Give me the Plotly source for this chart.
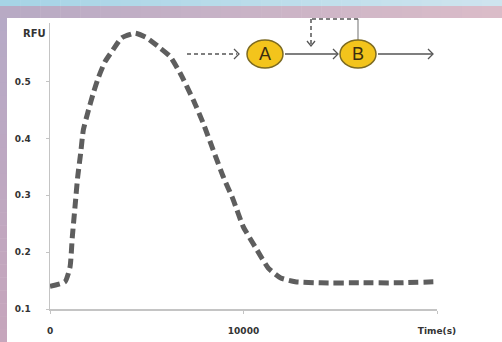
import plotly.graph_objects as go

# ---- data ----
time_s = [0, 776, 1035, 1154, 1293, 1433, 1588, 1723, 1950, 2240, 2500, 2845, 3260,
          3710, 4400, 5000, 5690, 6210, 6725, 7400, 7915, 8430, 8950, 9470, 9985,
          10695, 11280, 11900, 12675, 14000, 16000, 18000, 20000]
rfu = [0.140, 0.148, 0.174, 0.227, 0.280, 0.333, 0.375, 0.415, 0.445, 0.480, 0.507,
       0.535, 0.556, 0.577, 0.585, 0.577, 0.559, 0.544, 0.515, 0.468, 0.427, 0.380,
       0.333, 0.292, 0.245, 0.204, 0.172, 0.155, 0.148, 0.146, 0.146, 0.146, 0.148]

y_ticks = [0.1, 0.2, 0.3, 0.4, 0.5]
y_tick_text = ["0.1", "0.2", "0.3", "0.4", "0.5"]
x_ticks = [0, 10000, 20000]
x_tick_text = ["0", "10000", "Time(s)"]

W, H = 502, 342
L, R, T, B = 50, 437, 23, 309


def px(x):
    return (x - L) / (R - L)


def py(y):
    return (B - y) / (B - T)


def lerp(c1, c2, f):
    return "rgb(%d,%d,%d)" % tuple(round(a + (b - a) * f) for a, b in zip(c1, c2))


fig = go.Figure()
fig.add_trace(go.Scatter(
    x=time_s, y=rfu, mode="lines",
    line=dict(color="#5e5e5e", width=5, dash="10px,5px", shape="spline", smoothing=0.5),
    hoverinfo="skip", showlegend=False,
))

shapes = []
# gradient frame (top strip, band, left border)
n = 25
for i in range(n):
    x0 = i * W / n
    x1 = (i + 1) * W / n
    f = i / (n - 1)
    shapes.append(dict(type="rect", xref="paper", yref="paper", layer="below",
                       x0=px(x0), x1=px(x1 + 0.5), y0=py(6), y1=py(0),
                       fillcolor=lerp((166, 212, 230), (206, 228, 238), f), line_width=0))
    shapes.append(dict(type="rect", xref="paper", yref="paper", layer="below",
                       x0=px(x0), x1=px(x1 + 0.5), y0=py(18), y1=py(6),
                       fillcolor=lerp((184, 170, 196), (218, 188, 200), f), line_width=0))
for i in range(n):
    y0 = 18 + i * (H - 18) / n
    y1 = 18 + (i + 1) * (H - 18) / n
    f = i / (n - 1)
    shapes.append(dict(type="rect", xref="paper", yref="paper", layer="below",
                       x0=px(0), x1=px(7), y0=py(y1 + 0.5), y1=py(y0),
                       fillcolor=lerp((182, 170, 198), (198, 166, 188), f), line_width=0))

dk = "#555555"
# dashed arrow into A
shapes.append(dict(type="line", xref="paper", yref="paper", x0=px(187), y0=py(54), x1=px(237), y1=py(54),
                   line=dict(color=dk, width=1.5, dash="4px,3px")))
# solid arrows
shapes.append(dict(type="line", xref="paper", yref="paper", x0=px(285), y0=py(54), x1=px(337), y1=py(54),
                   line=dict(color=dk, width=1.3)))
shapes.append(dict(type="line", xref="paper", yref="paper", x0=px(378), y0=py(54), x1=px(432), y1=py(54),
                   line=dict(color=dk, width=1.3)))


def chevron(tx, ty, direction):
    if direction == "right":
        pts = [(tx - 5, ty - 5), (tx, ty), (tx - 5, ty + 5)]
    else:
        pts = [(tx - 4, ty - 5), (tx, ty), (tx + 4, ty - 5)]
    path = "M %f,%f L %f,%f L %f,%f" % tuple(v for p in pts for v in (px(p[0]), py(p[1])))
    return dict(type="path", xref="paper", yref="paper", path=path, line=dict(color=dk, width=1.3))


shapes.append(chevron(239, 54, "right"))
shapes.append(chevron(338, 54, "right"))
shapes.append(chevron(433, 54, "right"))
# feedback loop
shapes.append(dict(type="line", xref="paper", yref="paper", x0=px(358), y0=py(40), x1=px(358), y1=py(19),
                   line=dict(color="#888888", width=1.2)))
shapes.append(dict(type="line", xref="paper", yref="paper", x0=px(358), y0=py(19), x1=px(311), y1=py(19),
                   line=dict(color=dk, width=1.5, dash="4px,3px")))
shapes.append(dict(type="line", xref="paper", yref="paper", x0=px(311), y0=py(19), x1=px(311), y1=py(45),
                   line=dict(color=dk, width=1.5, dash="4px,3px")))
shapes.append(chevron(311, 46, "down"))
# circles
for cx in (265, 358):
    shapes.append(dict(type="circle", xref="paper", yref="paper",
                       x0=px(cx - 18), x1=px(cx + 18), y0=py(68), y1=py(40),
                       fillcolor="#f3c41c", line=dict(color="#7d6b22", width=1.5)))

annotations = [
    dict(text="A", x=px(265), y=py(54), xref="paper", yref="paper", showarrow=False,
         xanchor="center", yanchor="middle",
         font=dict(family="Liberation Sans", size=18, color="#3a2e10")),
    dict(text="B", x=px(358), y=py(54), xref="paper", yref="paper", showarrow=False,
         xanchor="center", yanchor="middle",
         font=dict(family="Liberation Sans", size=18, color="#3a2e10")),
    dict(text="RFU", x=px(34), y=py(33), xref="paper", yref="paper", showarrow=False,
         xanchor="center", yanchor="middle",
         font=dict(family="DejaVu Sans", size=10, color="#333333", weight="bold")),
]

tickfont = dict(family="DejaVu Sans", size=9, color="#333333", weight="bold")
fig.update_layout(
    width=W, height=H,
    margin=dict(l=L, r=W - R, t=T, b=H - B, pad=0, autoexpand=False),
    paper_bgcolor="white", plot_bgcolor="white",
    showlegend=False,
    shapes=shapes, annotations=annotations,
    xaxis=dict(range=[0, 20000], tickvals=x_ticks, ticktext=x_tick_text, showgrid=False,
               zeroline=False, showline=True, linecolor="#c4c4c4", linewidth=1.5,
               ticks="outside", ticklen=3, tickcolor="#c4c4c4", tickfont=tickfont,
               ticklabelstandoff=10, automargin=False),
    yaxis=dict(range=[0.1, 0.603], tickvals=y_ticks, ticktext=y_tick_text, showgrid=False,
               zeroline=False, showline=True, linecolor="#c4c4c4", linewidth=1.5,
               ticks="outside", ticklen=3, tickcolor="#c4c4c4", tickfont=tickfont,
               ticklabelstandoff=13, automargin=False),
)

fig.write_html(
    "out.html",
    config={"displayModeBar": False, "staticPlot": True},
    post_script="document.body.style.margin='0';document.body.style.padding='0';"
                "document.body.style.overflow='hidden';",
)
